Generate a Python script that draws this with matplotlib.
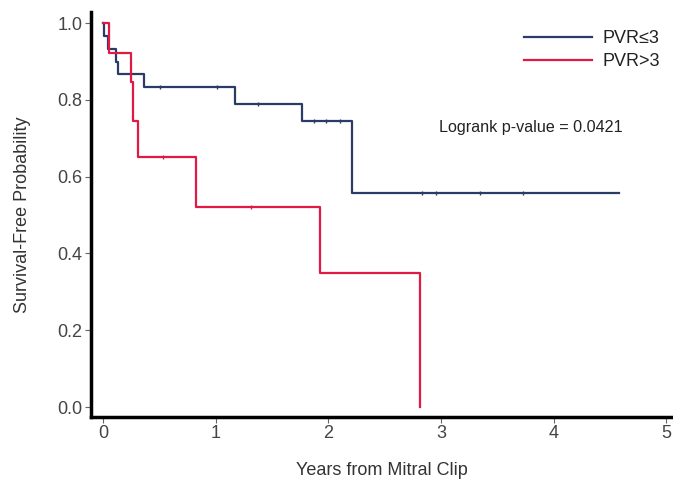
import matplotlib
matplotlib.use("Agg")
import matplotlib.pyplot as plt
import numpy as np

# Kaplan-Meier step data
low_times = [0, 0.005, 0.045, 0.115, 0.13, 0.36, 1.17, 1.77, 2.21, 4.58]
low_surv = [1.0, 0.967, 0.933, 0.900, 0.867, 0.833, 0.790, 0.745, 0.558, 0.558]
low_censor = [0.51, 1.01, 1.38, 1.87, 1.98, 2.10, 2.83, 2.96, 3.35, 3.73]

high_times = [0, 0.05, 0.245, 0.265, 0.31, 0.83, 1.93, 2.81]
high_surv = [1.0, 0.923, 0.846, 0.746, 0.652, 0.522, 0.348, 0.0]
high_censor = [0.53, 1.31]

group_labels = ["PVR\u22643", "PVR>3"]
xticks = [0, 1, 2, 3, 4, 5]
yticks = [0.0, 0.2, 0.4, 0.6, 0.8, 1.0]

blue = "#2a3b66"
red = "#e01a45"

plt.rcParams["font.family"] = ["Liberation Sans", "DejaVu Sans"]

fig = plt.figure(figsize=(6.73, 4.87), dpi=100)
ax = fig.add_axes([0.1348, 0.1437, 0.8652, 0.8316])


def surv_at(times, surv, t):
    idx = np.searchsorted(times, t, side="right") - 1
    return surv[idx]


for times, surv, cens, col, lab in [
    (low_times, low_surv, low_censor, blue, group_labels[0]),
    (high_times, high_surv, high_censor, red, group_labels[1]),
]:
    ax.step(times, surv, where="post", color=col, lw=1.6, label=lab)
    cy = [surv_at(times, surv, c) for c in cens]
    ax.plot(cens, cy, ls="none", marker="|", ms=3, mew=1.0, color=col)

ax.set_xlim(-0.109, 5.06)
ax.set_ylim(-0.026, 1.029)
ax.set_xticks(xticks)
ax.set_yticks(yticks)
ax.set_xticklabels([str(x) for x in xticks])
ax.set_yticklabels(["%.1f" % y for y in yticks])

for s in ["top", "right"]:
    ax.spines[s].set_visible(False)
for s in ["left", "bottom"]:
    ax.spines[s].set_linewidth(2.5)
    ax.spines[s].set_color("black")

ax.tick_params(axis="both", direction="out", length=4, width=0.8,
               color="#666666", labelsize=13, labelcolor="#444444", pad=2)

ax.set_xlabel("Years from Mitral Clip", fontsize=13, color="#333333", labelpad=14)
ax.set_ylabel("Survival-Free Probability", fontsize=13, color="#333333", labelpad=19)

ax.text(2.98, 0.727, "Logrank p-value = 0.0421", fontsize=11.6, color="#222222",
        va="center", ha="left")

leg = ax.legend(loc="upper right", bbox_to_anchor=(0.991, 0.953),
                bbox_transform=fig.transFigure, borderaxespad=0, frameon=False,
                fontsize=13, handlelength=3.8, handletextpad=0.55,
                labelspacing=0.33, labelcolor="#222222")

fig.savefig("out.png", dpi=100)
